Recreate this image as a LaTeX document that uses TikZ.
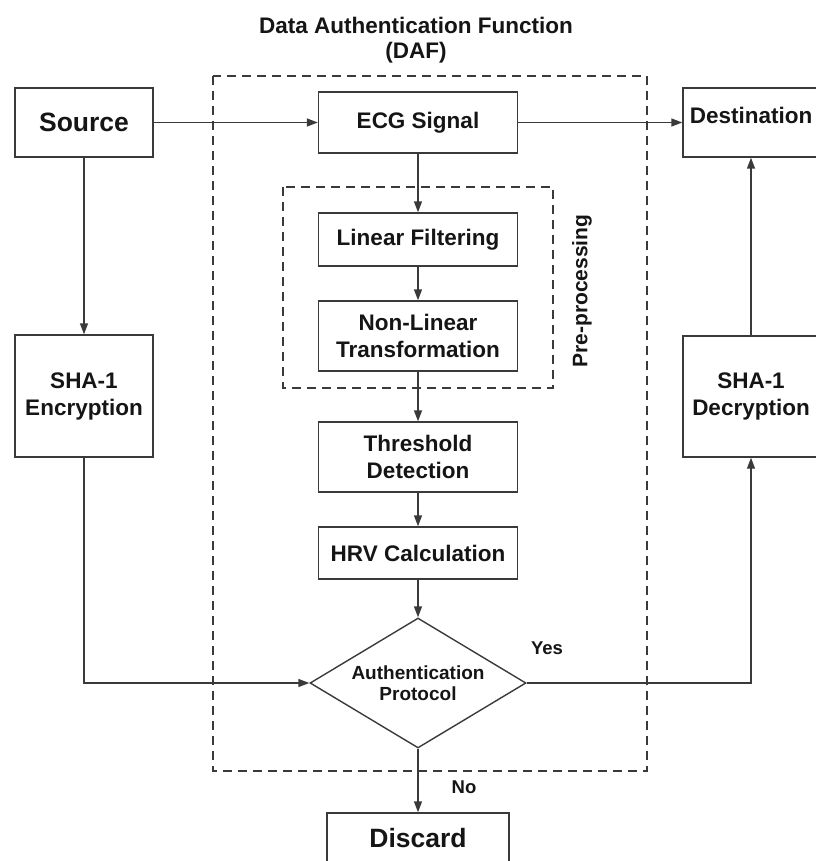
\documentclass[tikz,border=0pt]{standalone}
\usepackage{fontspec}
\setmainfont{Liberation Sans}
\usetikzlibrary{shapes.geometric,arrows.meta}
\definecolor{linec}{HTML}{3A3A3A}
\definecolor{textc}{HTML}{151515}
\tikzset{
  box/.style={draw=linec, line width=1.4pt, rectangle, inner sep=0pt, align=center,
    text=textc, font=\bfseries\fontsize{22.5}{27}\selectfont},
  bigbox/.style={box, font=\bfseries\fontsize{26.5}{30}\selectfont},
  dashbox/.style={draw=linec, line width=1.4pt, dash pattern=on 9pt off 6pt},
  arr/.style={draw=linec, line width=1.4pt, -{Triangle[length=11pt,width=8pt]}},
  lbl/.style={text=textc, inner sep=0pt, font=\bfseries\fontsize{18.5}{22}\selectfont},
}
\begin{document}
\begin{tikzpicture}[x=1pt,y=-1pt]
\useasboundingbox (0,0) rectangle (815,861);
% dashed frames
\draw[dashbox] (213,76) rectangle (647,771);
\draw[dashbox] (283,187) rectangle (553,388);
% title
\node[text=textc, inner sep=0pt, font=\bfseries\fontsize{22.5}{27}\selectfont] (title) at (416,25) {Data Authentication Function};
\node[text=textc, inner sep=0pt, font=\bfseries\fontsize{22.5}{27}\selectfont] (daf) at (416,53) {(DAF)};
\node[text=textc, inner sep=0pt, rotate=90, font=\bfseries\fontsize{21}{25}\selectfont] (pre) at (582,291) {Pre-processing};
% boxes
\node[bigbox, minimum width=138pt, minimum height=69pt] (src) at (84,122.5) {Source};
\node[box, minimum width=199pt, minimum height=61pt] (ecg) at (418,122.5) {ECG Signal};
\node[box, minimum width=136pt, minimum height=69pt] (dst) at (751,122.5) {\raisebox{14pt}{Destination}};
\node[box, minimum width=199pt, minimum height=53pt] (lin) at (418,239.5) {Linear Filtering};
\node[box, minimum width=199pt, minimum height=70pt] (nonlin) at (418,336) {Non-Linear\\Transformation};
\node[box, minimum width=199pt, minimum height=70pt] (thr) at (418,457) {Threshold\\Detection};
\node[box, minimum width=199pt, minimum height=52pt] (hrv) at (418,553) {HRV Calculation};
\node[box, minimum width=138pt, minimum height=122pt] (enc) at (84,396) {SHA-1\\Encryption};
\node[box, minimum width=136pt, minimum height=121pt] (dec) at (751,396.5) {SHA-1\\Decryption};
\node[box, shape=diamond, aspect=1.66, minimum width=216pt, minimum height=130pt,
  font=\bfseries\fontsize{19}{21.5}\selectfont] (dia) at (418,683) {Authentication\\Protocol};
\node[bigbox, minimum width=182pt, minimum height=50pt] (disc) at (418,838) {Discard};
% connectors
\draw[arr] (src.east) -- (ecg.west);
\draw[arr] (ecg.east) -- (dst.west);
\draw[arr] (ecg.south) -- (lin.north);
\draw[arr] (lin.south) -- (nonlin.north);
\draw[arr] (nonlin.south) -- (thr.north);
\draw[arr] (thr.south) -- (hrv.north);
\draw[arr] (hrv.south) -- (dia.north);
\draw[arr] (src.south) -- (enc.north);
\draw[arr] (enc.south) |- (dia.west);
\draw[arr] (dia.east) -| (dec.south);
\draw[arr] (dec.north) -- (dst.south);
\draw[arr] (dia.south) -- (disc.north);
% labels
\node[lbl] (yes) at (547,648) {Yes};
\node[lbl] (no) at (464,787) {No};
\end{tikzpicture}
\end{document}
